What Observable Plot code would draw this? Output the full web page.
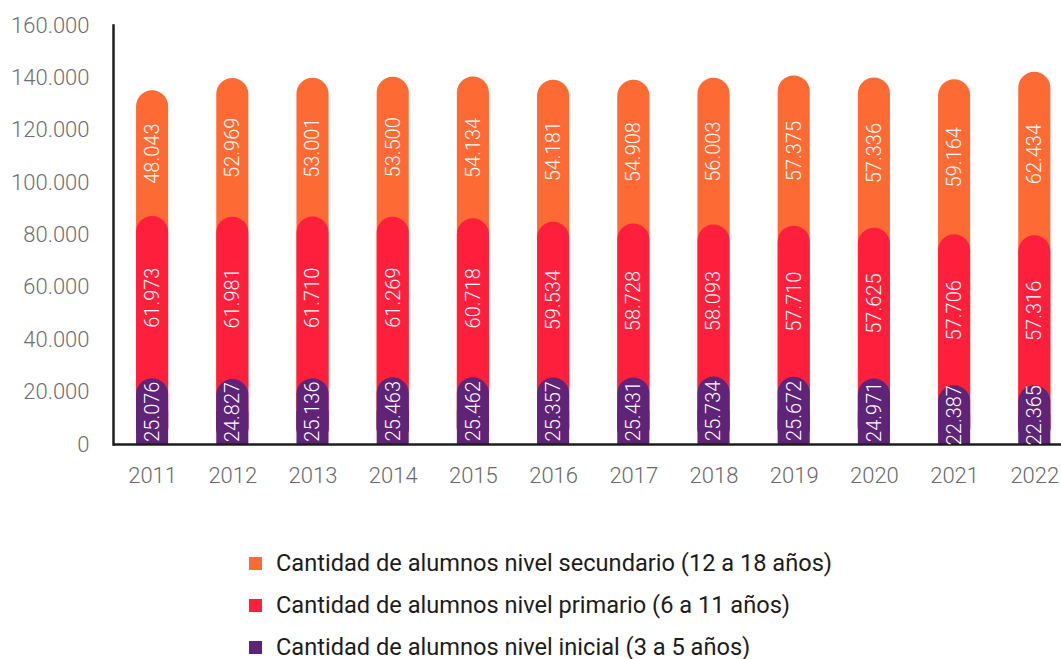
<!DOCTYPE html>
<html>
<head>
<meta charset="utf-8">
<script src="https://cdn.jsdelivr.net/npm/d3@7"></script>
<script src="https://cdn.jsdelivr.net/npm/@observablehq/plot@0.6"></script>
<style>
  html, body { margin: 0; padding: 0; background: #fff; }
  body { width: 1061px; height: 659px; overflow: hidden; font-family: Roboto, "Noto Sans", sans-serif; }
  #legend { position: absolute; left: 249px; top: 542px; }
  .row { display: flex; align-items: center; height: 42px; font-size: 23.6px; color: #1c1c1c; font-weight: 400; }
  .sw { width: 13px; height: 13px; margin-right: 14px; }
</style>
</head>
<body>
<div id="chart"></div>
<div id="legend"></div>
<script>
const years = ["2011","2012","2013","2014","2015","2016","2017","2018","2019","2020","2021","2022"];
const inicial    = [25076, 24827, 25136, 25463, 25462, 25357, 25431, 25734, 25672, 24971, 22387, 22365];
const primario   = [61973, 61981, 61710, 61269, 60718, 59534, 58728, 58093, 57710, 57625, 57706, 57316];
const secundario = [48043, 52969, 53001, 53500, 54134, 54181, 54908, 56003, 57375, 57336, 59164, 62434];
const seriesNames = [
  "Cantidad de alumnos nivel secundario (12 a 18 años)",
  "Cantidad de alumnos nivel primario (6 a 11 años)",
  "Cantidad de alumnos nivel inicial (3 a 5 años)"
];
const colors = ["#FE6A33", "#FE1F3D", "#5F2377"];
const yTicks = [0, 20000, 40000, 60000, 80000, 100000, 120000, 140000, 160000];

const fmt = d => d3.format(",")(d).replace(/,/g, ".");

const rows = years.map((yr, i) => {
  const a = inicial[i], b = primario[i], c = secundario[i];
  return {year: yr, p: a, r: b, s: c, top1: a, top2: a + b, top3: a + b + c};
});

const W = 1061, H = 510;
const plot = Plot.plot({
  width: W,
  height: H,
  marginLeft: 113,
  marginRight: 0,
  marginTop: 25,
  marginBottom: 66,
  style: {fontFamily: "Roboto, 'Noto Sans', sans-serif", background: "transparent"},
  x: {domain: years, range: [112, 1074.4], paddingInner: 0.6, paddingOuter: 0.3, round: false, label: null},
  y: {domain: [0, 160000], label: null},
  marks: [
    Plot.frame({anchor: "left", stroke: "#1e1e1e", strokeWidth: 2.5}),
    Plot.barY(rows, {x: "year", y1: 0, y2: "top3", fill: colors[0], rx: 16}),
    Plot.barY(rows, {x: "year", y1: 0, y2: "top2", fill: colors[1], rx: 16}),
    Plot.barY(rows, {x: "year", y1: 0, y2: "top1", fill: colors[2], rx: 16}),
    Plot.barY(rows, {x: "year", y1: 0, y2: d => d.p / 2, fill: colors[2]}),
    Plot.ruleY([0], {stroke: "#1e1e1e", strokeWidth: 2.5}),
    Plot.text(rows, {x: "year", y: d => d.top2 + d.s / 2, text: d => fmt(d.s), rotate: -90, fill: "white", fontSize: 20, fontWeight: 300}),
    Plot.text(rows, {x: "year", y: d => d.top1 + d.r / 2, text: d => fmt(d.r), rotate: -90, fill: "white", fontSize: 20, fontWeight: 300}),
    Plot.text(rows, {x: "year", y: d => d.p / 2, text: d => fmt(d.p), rotate: -90, fill: "white", fontSize: 20, fontWeight: 300}),
    Plot.axisY({ticks: yTicks, tickFormat: fmt, tickSize: 0, tickPadding: 24, fontSize: 22, fontWeight: 300, color: "#6f6f6f", label: null}),
    Plot.axisX({tickSize: 0, tickPadding: 23, fontSize: 22, fontWeight: 300, color: "#6a6a6a", label: null})
  ]
});
document.getElementById("chart").appendChild(plot);

const legend = document.getElementById("legend");
seriesNames.forEach((name, i) => {
  const row = document.createElement("div");
  row.className = "row";
  const sw = document.createElement("div");
  sw.className = "sw";
  sw.style.background = colors[i];
  const t = document.createElement("span");
  t.textContent = name;
  row.appendChild(sw);
  row.appendChild(t);
  legend.appendChild(row);
});
</script>
</body>
</html>
